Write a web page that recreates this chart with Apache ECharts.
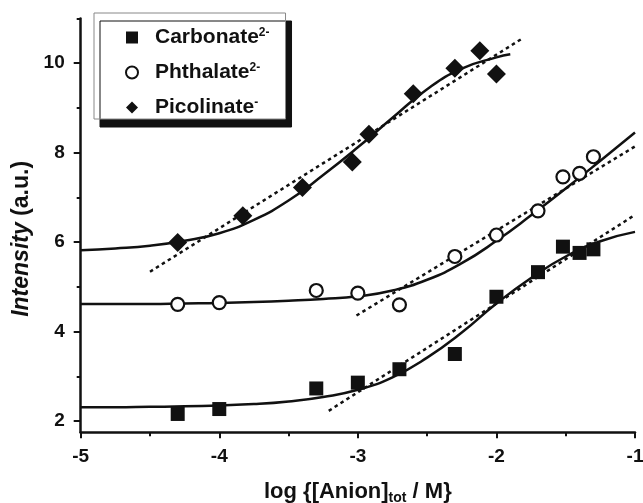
<!DOCTYPE html>
<html><head><meta charset="utf-8">
<script src="https://cdn.jsdelivr.net/npm/echarts@6/dist/echarts.min.js"></script>
<style>html,body{margin:0;padding:0;background:#fff}#c{width:643px;height:503px}</style>
</head><body><div id="c"></div>
<script>
const FONT = '"Liberation Sans", Arial, Helvetica, sans-serif';
const INK = '#111';

// Legend names and charges
const seriesNames = ['Carbonate', 'Phthalate', 'Picolinate'];
const seriesCharges = ['2-', '2-', '-'];

// Measured points
const xCarb = [-4.3, -4.0, -3.3, -3.0, -2.7, -2.3, -2.0, -1.7, -1.52, -1.4, -1.3];
const yCarb = [2.16, 2.27, 2.73, 2.86, 3.16, 3.50, 4.78, 5.33, 5.90, 5.76, 5.84];
const xPhth = [-4.3, -4.0, -3.3, -3.0, -2.7, -2.3, -2.0, -1.7, -1.52, -1.4, -1.3];
const yPhth = [4.61, 4.65, 4.92, 4.86, 4.60, 5.68, 6.16, 6.70, 7.46, 7.54, 7.91];
const xPico = [-4.3, -3.83, -3.4, -3.04, -2.92, -2.6, -2.3, -2.12, -2.0];
const yPico = [5.99, 6.59, 7.22, 7.79, 8.41, 9.32, 9.89, 10.28, 9.76];

// Solid fitted curves
const fitX = [-5, -4.75, -4.5, -4.25, -4, -3.75, -3.5, -3.25, -3, -2.75, -2.5, -2.25, -2, -1.75, -1.5, -1.25, -1];
const carbFitY = [2.31, 2.31, 2.32, 2.33, 2.35, 2.38, 2.44, 2.54, 2.70, 2.98, 3.42, 3.98, 4.63, 5.20, 5.68, 6.02, 6.23];
const phthFitY = [4.62, 4.62, 4.62, 4.63, 4.64, 4.66, 4.69, 4.73, 4.79, 4.92, 5.16, 5.53, 6.03, 6.60, 7.20, 7.82, 8.45];
const picoFitX = [-5, -4.75, -4.5, -4.25, -4, -3.75, -3.5, -3.25, -3, -2.75, -2.5, -2.25, -2, -1.9];
const picoFitY = [5.82, 5.86, 5.92, 6.03, 6.20, 6.50, 6.93, 7.50, 8.12, 8.78, 9.42, 9.88, 10.13, 10.20];

// Dotted linear fits
const carbLinX = [-3.21, -1.0];
const carbLinY = [2.23, 6.61];
const phthLinX = [-3.01, -1.0];
const phthLinY = [4.36, 8.14];
const picoLinX = [-4.5, -1.81];
const picoLinY = [5.34, 10.56];

// Axis ticks
const xTicks = [-5, -4, -3, -2, -1];
const xMinorTicks = [-4.5, -3.5, -2.5, -1.5];
const yTickLabels = [2, 4, 6, 8, 10];
const yMinorTicks = [3, 5, 7, 9, 11];

const pairs = (xs, ys) => xs.map((x, i) => [x, ys[i]]);

const chart = echarts.init(document.getElementById('c'), null, {renderer: 'canvas'});

function fitLine(name, xs, ys) {
  return {type: 'line', name, data: pairs(xs, ys), showSymbol: false, symbol: 'none',
    smooth: 0.5, z: 2, silent: true,
    lineStyle: {color: INK, width: 2.5}};
}
function dotLine(name, xs, ys) {
  return {type: 'line', name, data: pairs(xs, ys), showSymbol: false, symbol: 'none', z: 2, silent: true,
    lineStyle: {color: INK, width: 2.5, type: [3.5, 3.5]}};
}

chart.setOption({
  animation: false,
  backgroundColor: '#fff',
  grid: {left: 80.7, right: 8, top: 18.5, bottom: 70.7, containLabel: false, outerBoundsMode: 'none'},
  legend: {
    data: seriesNames,
    orient: 'vertical', left: 94, top: 13,
    itemWidth: 12, itemHeight: 12, itemGap: 14,
    padding: [14, 16, 1, 31],
    backgroundColor: '#fff', borderColor: '#888', borderWidth: 1,
    shadowColor: INK, shadowBlur: 0, shadowOffsetX: 6, shadowOffsetY: 8,
    formatter: name => name + '{sup|' + seriesCharges[seriesNames.indexOf(name)] + '}',
    textStyle: {fontFamily: FONT, fontSize: 21, fontWeight: 'bold', color: INK, padding: [0, 0, 0, 12],
      rich: {sup: {fontFamily: FONT, fontSize: 12, fontWeight: 'bold', color: INK, verticalAlign: 'top'}}}
  },
  xAxis: [{
    type: 'value', min: -5, max: -1, interval: 1,
    splitLine: {show: false},
    axisLine: {lineStyle: {color: INK, width: 2.5}},
    axisTick: {customValues: xTicks, length: 6, lineStyle: {color: INK, width: 2}},
    axisLabel: {customValues: xTicks, fontFamily: FONT, fontSize: 19, fontWeight: 'bold', color: INK, margin: 15},
    name: 'log {[Anion]{s|tot} / M}',
    nameLocation: 'middle', nameGap: 47,
    nameTextStyle: {fontFamily: FONT, fontSize: 22, fontWeight: 'bold', color: INK,
      rich: {s: {fontFamily: FONT, fontSize: 14, fontWeight: 'bold', color: INK, verticalAlign: 'bottom', padding: [12, 0, 0, 0]}}}
  }, {
    type: 'value', min: -5, max: -1, interval: 1, position: 'bottom',
    splitLine: {show: false},
    axisLine: {show: true, lineStyle: {color: 'rgba(0,0,0,0)', width: 0}},
    axisTick: {customValues: xMinorTicks, length: 4, lineStyle: {color: INK, width: 2}},
    axisLabel: {show: false}
  }],
  yAxis: [{
    type: 'value', min: 1.75, max: 11,
    splitLine: {show: false},
    axisLine: {lineStyle: {color: INK, width: 2.5}},
    axisTick: {customValues: yTickLabels, length: 7, lineStyle: {color: INK, width: 2}},
    axisLabel: {customValues: yTickLabels, fontFamily: FONT, fontSize: 19, fontWeight: 'bold', color: INK, margin: 16},
    name: '{i|Intensity} (a.u.)',
    nameLocation: 'middle', nameGap: 42, nameRotate: 90,
    nameTextStyle: {fontFamily: FONT, fontSize: 23, fontWeight: 'bold', color: INK, padding: [0, 27, 0, 0],
      rich: {i: {fontFamily: FONT, fontSize: 23, fontWeight: 'bold', fontStyle: 'italic', color: INK}}}
  }, {
    type: 'value', min: 1.75, max: 11, position: 'left', offset: 0,
    splitLine: {show: false},
    axisLine: {show: true, lineStyle: {color: 'rgba(0,0,0,0)', width: 0}},
    axisTick: {customValues: yMinorTicks, length: 4, lineStyle: {color: INK, width: 2}},
    axisLabel: {show: false}
  }],
  series: [
    fitLine('carbFit', fitX, carbFitY),
    fitLine('phthFit', fitX, phthFitY),
    fitLine('picoFit', picoFitX, picoFitY),
    dotLine('carbLin', carbLinX, carbLinY),
    dotLine('phthLin', phthLinX, phthLinY),
    dotLine('picoLin', picoLinX, picoLinY),
    {type: 'scatter', name: seriesNames[0], data: pairs(xCarb, yCarb), symbol: 'rect', symbolSize: 14, z: 5,
      itemStyle: {color: INK, opacity: 1}},
    {type: 'scatter', name: seriesNames[1], data: pairs(xPhth, yPhth), symbol: 'circle', symbolSize: 13, z: 5,
      itemStyle: {color: '#fff', borderColor: INK, borderWidth: 2.2, opacity: 1}},
    {type: 'scatter', name: seriesNames[2], data: pairs(xPico, yPico), symbol: 'diamond', symbolSize: 19, z: 5,
      itemStyle: {color: INK, opacity: 1}}
  ]
});
</script>
</body></html>
